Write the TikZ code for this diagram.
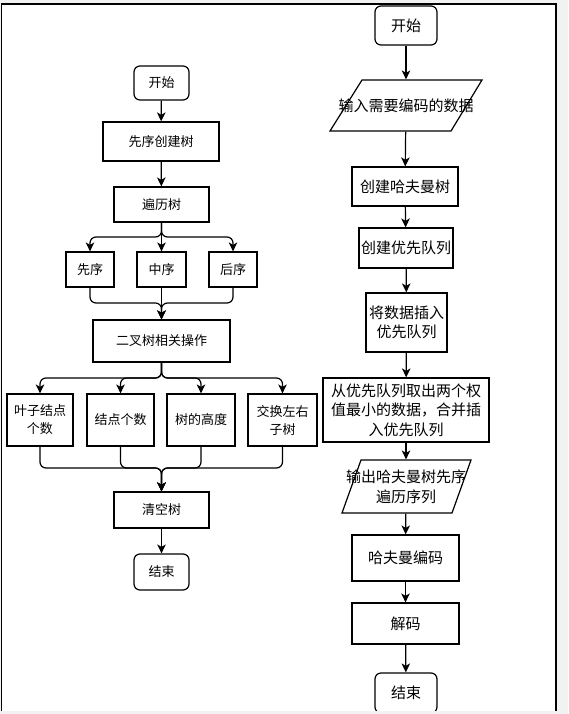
\documentclass[tikz,border=0pt]{standalone}
\usepackage{fontspec}
\setmainfont{Noto Sans CJK SC}
\usetikzlibrary{arrows.meta}
\begin{document}
\begin{tikzpicture}[x=1pt,y=-1pt,
  base/.style={inner sep=0pt,align=center,line width=1.2pt},
  lbox/.style={base,draw,font=\fontsize{13}{18}\selectfont},
  rbox/.style={base,draw,font=\fontsize{15}{19.5}\selectfont},
  rtext/.style={base,font=\fontsize{15}{20}\selectfont},
  term/.style={rounded corners=6pt},
  arr/.style={-{Stealth[length=9pt,width=8.5pt,inset=2.5pt]},line width=1.2pt,rounded corners=6pt},
  frame/.style={line width=1.2pt}
]
\useasboundingbox (0,0) rectangle (568,714);
\fill[black!5] (0,0) rectangle (568,714);
\fill[white] (1.5,4) rectangle (556,711);

% ---------- left column ----------
\node[lbox,term,minimum width=55,minimum height=34] (ls) at (161.5,83) {开始};
\node[lbox,minimum width=116,minimum height=39] (create) at (161,141.5) {先序创建树};
\node[lbox,minimum width=95,minimum height=35] (trav) at (161.5,204.5) {遍历树};
\node[lbox,minimum width=48,minimum height=35] (pre) at (90,269.5) {先序};
\node[lbox,minimum width=49,minimum height=35] (in) at (161.5,269.5) {中序};
\node[lbox,minimum width=48,minimum height=35] (post) at (233,269.5) {后序};
\node[lbox,minimum width=137,minimum height=42] (ops) at (161.5,341) {二叉树相关操作};
\node[lbox,minimum width=66,minimum height=52] (leaf) at (40,420) {叶子结点\\个数};
\node[lbox,minimum width=67,minimum height=52] (cnt) at (120.5,420) {结点个数};
\node[lbox,minimum width=68,minimum height=52] (hgt) at (201,420) {树的高度};
\node[lbox,minimum width=69,minimum height=52] (swp) at (282.5,420) {交换左右\\子树};
\node[lbox,minimum width=95,minimum height=36] (clr) at (161.5,510) {清空树};
\node[lbox,term,minimum width=55,minimum height=36] (le) at (161.5,572) {结束};

\coordinate (b1) at (161.5,237);
\coordinate (m1) at (161.5,303);
\coordinate (b2) at (161.5,378);
\coordinate (m2) at (161.5,468);

\draw[arr] (ls) -- (create);
\draw[arr] (create) -- (trav);
\draw[arr] (trav.south) -- (b1) -| (pre.north);
\draw[arr] (trav.south) -- (in.north);
\draw[arr] (trav.south) -- (b1) -| (post.north);
\draw[arr] (pre.south) |- (m1) -- (ops.north);
\draw[arr] (in.south) -- (ops.north);
\draw[arr] (post.south) |- (m1) -- (ops.north);
\draw[arr] (ops.south) -- (b2) -| (leaf.north);
\draw[arr] (ops.south) -- (b2) -| (cnt.north);
\draw[arr] (ops.south) -- (b2) -| (hgt.north);
\draw[arr] (ops.south) -- (b2) -| (swp.north);
\draw[arr] (leaf.south) |- (m2) -- (clr.north);
\draw[arr] (cnt.south) |- (m2) -- (clr.north);
\draw[arr] (hgt.south) |- (m2) -- (clr.north);
\draw[arr] (swp.south) |- (m2) -- (clr.north);
\draw[arr] (clr) -- (le);

% ---------- right column ----------
\node[rbox,term,minimum width=62,minimum height=39] (rs) at (406,25.5) {开始};
\draw[line width=1.2pt] (362,80) -- (482,80) -- (451,131) -- (330,131) -- cycle;
\node[rtext,minimum height=51] (inp) at (406,105.5) {输入需要编码的数据};
\node[rbox,minimum width=106,minimum height=39] (huff) at (405,186.5) {创建哈夫曼树};
\node[rbox,minimum width=94,minimum height=40] (pq) at (406,248) {创建优先队列};
\node[rbox,minimum width=81,minimum height=59] (ins) at (406.5,322.5) {将数据插入\\优先队列};
\node[rbox,minimum width=166,minimum height=64] (merge) at (406,410) {从优先队列取出两个权\\值最小的数据，合并插\\入优先队列};
\draw[line width=1.2pt] (361,460) -- (471,460) -- (452,513) -- (342,513) -- cycle;
\node[rtext,minimum height=53] (outp) at (406,486.5) {输出哈夫曼树先序\\遍历序列};
\node[rbox,minimum width=107,minimum height=46] (code) at (405.5,558) {哈夫曼编码};
\node[rbox,minimum width=107,minimum height=41] (dec) at (405.5,623.5) {解码};
\node[rbox,term,minimum width=62,minimum height=40] (re) at (406,693) {结束};

\draw[arr] (rs) -- (inp);
\draw[arr] (inp) -- (huff);
\draw[arr] (huff) -- (pq);
\draw[arr] (pq) -- (ins);
\draw[arr] (ins) -- (merge);
\draw[arr] (merge) -- (outp);
\draw[arr] (outp) -- (code);
\draw[arr] (code) -- (dec);
\draw[arr] (dec) -- (re);

% ---------- frame ----------
\fill[black!5] (0,711) rectangle (568,714);
\draw[frame] (1.5,711) -- (1.5,4) -- (556,4) -- (556,711);
\end{tikzpicture}
\end{document}
